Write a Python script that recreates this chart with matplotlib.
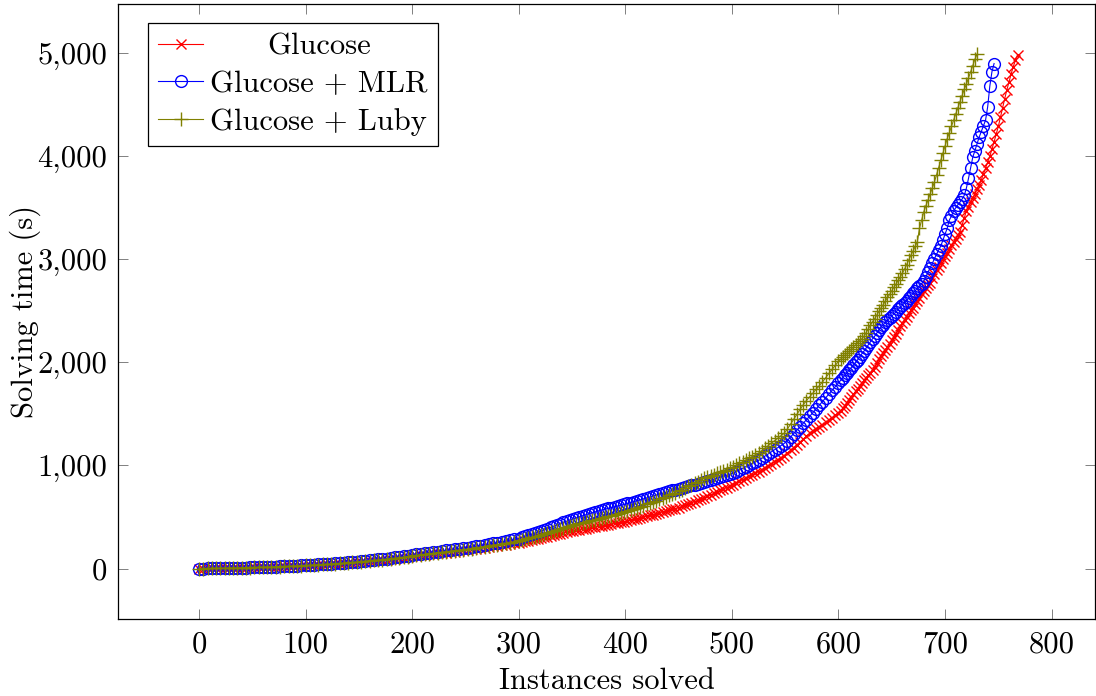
import matplotlib
matplotlib.use("Agg")
import matplotlib.pyplot as plt
from matplotlib.ticker import FuncFormatter, MultipleLocator

plt.rcParams.update({
    "font.family": "cmr10",
    "font.size": 22,
    "axes.formatter.use_mathtext": True,
    "mathtext.fontset": "cm",
})

# ── Data: cumulative solving time (s) vs. number of instances solved ─────────
# sampled every 4 instances up to 296, every 3 up to 597, every 2 after that
INST_A = list(range(0, 300, 4))
INST_B = list(range(300, 600, 3))

glucose_a = [
    0, 0, 1, 1, 2, 2, 3, 4, 4, 5, 6, 7, 8, 10, 11, 12, 14, 15, 17, 18,
    20, 22, 23, 25, 27, 29, 31, 33, 35, 38, 40, 42, 45, 47, 50, 53, 56, 59, 63, 66,
    70, 74, 78, 82, 87, 91, 96, 101, 105, 111, 117, 122, 127, 131, 136, 141, 146,
    151, 155, 160, 165, 170, 175, 181, 186, 191, 197, 202, 208, 214, 220, 226,
    232, 238, 244,
]
mlr_a = [
    0, 0, 1, 1, 2, 3, 4, 5, 6, 7, 8, 9, 10, 12, 13, 14, 16, 17, 19, 20,
    22, 24, 26, 28, 30, 32, 34, 37, 39, 42, 45, 48, 51, 54, 57, 60, 64, 67, 71, 75,
    79, 83, 88, 92, 97, 102, 107, 112, 118, 124, 130, 136, 141, 147, 152, 158,
    164, 169, 175, 180, 186, 192, 197, 203, 210, 216, 223, 230, 237, 244, 252,
    260, 267, 275, 282,
]
luby_a = [
    0, 0, 1, 1, 2, 2, 3, 4, 5, 6, 7, 8, 9, 11, 12, 13, 15, 16, 18, 19,
    21, 23, 24, 26, 28, 30, 32, 35, 37, 40, 42, 44, 47, 50, 53, 56, 60, 63, 67, 70,
    74, 78, 82, 86, 91, 95, 100, 105, 111, 116, 122, 127, 132, 136, 141, 146,
    151, 156, 161, 166, 171, 177, 182, 188, 193, 199, 205, 211, 217, 224, 230,
    237, 244, 251, 258,
]

glucose_b = [
    250, 257, 263, 270, 276, 283, 290, 296, 303, 310, 317, 324, 331, 339, 346,
    353, 360, 367, 372, 378, 383, 388, 394, 399, 405, 410, 415, 421, 426, 432,
    437, 442, 448, 453, 460, 468, 476, 484, 491, 499, 507, 515, 523, 531, 540,
    548, 556, 565, 573, 582, 590, 602, 614, 626, 638, 650, 662, 674, 686, 700,
    714, 728, 743, 757, 772, 786, 800, 815, 831, 846, 862, 878, 893, 909, 924,
    940, 959, 978, 998, 1017, 1036, 1055, 1074, 1094, 1118, 1146, 1174, 1201,
    1229, 1256, 1284, 1311, 1337, 1357, 1377, 1397, 1417, 1437, 1462, 1486,
]
mlr_b = [
    290, 301, 312, 322, 333, 344, 355, 366, 376, 388, 400, 412, 424, 436, 448,
    460, 472, 483, 493, 502, 512, 522, 531, 541, 550, 560, 568, 576, 583, 591,
    599, 607, 615, 622, 631, 640, 649, 658, 667, 676, 685, 694, 703, 712, 721,
    730, 739, 748, 757, 766, 775, 783, 791, 799, 806, 814, 822, 830, 837, 846,
    856, 866, 875, 885, 894, 904, 914, 925, 941, 956, 972, 988, 1003, 1019, 1034,
    1050, 1070, 1091, 1111, 1132, 1152, 1172, 1193, 1213, 1242, 1276, 1310, 1343,
    1377, 1410, 1444, 1478, 1512, 1548, 1584, 1620, 1656, 1692, 1728, 1764,
]
luby_b = [
    265, 274, 283, 292, 301, 310, 319, 328, 337, 346, 356, 366, 375, 385, 394,
    404, 414, 422, 430, 437, 444, 451, 458, 466, 473, 480, 488, 497, 505, 514,
    522, 530, 539, 547, 557, 568, 579, 590, 600, 611, 622, 633, 644, 658, 671,
    684, 697, 710, 724, 737, 750, 766, 781, 797, 812, 828, 844, 859, 875, 888,
    900, 912, 924, 936, 948, 960, 972, 986, 1003, 1019, 1036, 1053, 1070, 1086,
    1103, 1120, 1144, 1168, 1192, 1216, 1240, 1264, 1288, 1312, 1352, 1400, 1448,
    1496, 1544, 1590, 1630, 1666, 1702, 1738, 1774, 1810, 1852, 1893, 1932, 1971,
]

glucose_tail_x = list(range(600, 770, 2))
glucose_tail = [
    1510, 1530, 1555, 1580, 1610, 1640, 1665, 1690, 1720,
    1745, 1770, 1800, 1825, 1850, 1875, 1900, 1930, 1960, 1990,
    2030, 2060, 2095, 2125, 2150, 2180,
    2215, 2250, 2280, 2315, 2350, 2385,
    2415, 2445, 2475, 2505, 2530, 2565, 2595, 2625, 2660, 2690,
    2720, 2750, 2775, 2820, 2860, 2895, 2930, 2965, 3000, 3030,
    3065, 3100, 3135, 3165, 3200, 3235, 3270,
    3335, 3400, 3470,
    3510, 3555, 3595, 3635, 3680, 3720,
    3770, 3830, 3885, 3945, 4000,
    4070, 4140, 4215, 4290,
    4380, 4470, 4560, 4645,
    4720, 4800, 4870, 4930, 4985,
]
mlr_tail_x = list(range(600, 748, 2))
mlr_tail = [
    1800, 1825, 1850, 1875, 1900, 1925, 1950, 1975, 2000,
    2025, 2055, 2085, 2110, 2140, 2170, 2200, 2230, 2255, 2285, 2315,
    2345, 2365, 2390, 2410, 2430, 2450, 2470, 2490, 2515, 2535, 2555, 2580, 2600,
    2625, 2645, 2670, 2695, 2720, 2740, 2765, 2790,
    2830, 2875, 2920, 2960, 3005, 3050,
    3090, 3130, 3185, 3245,
    3300, 3380, 3420, 3470,
    3500, 3530, 3555, 3585,
    3620, 3690, 3785, 3890, 3990,
    4055, 4120, 4185,
    4240, 4295, 4350,
    4480, 4680, 4820, 4900,
]
luby_tail_x = list(range(600, 732, 2))
luby_tail = [
    2010, 2030, 2050, 2070, 2090, 2110, 2130, 2150, 2170, 2190, 2210, 2230,
    2255, 2290, 2325, 2360, 2395, 2425, 2460, 2495, 2530,
    2560, 2595, 2630, 2660, 2695, 2730, 2760, 2795, 2830, 2865,
    2905, 2950, 2995, 3040, 3080, 3125, 3170,
    3300, 3380, 3460,
    3520, 3575, 3635, 3690, 3750,
    3820, 3890, 3960, 4030, 4100, 4170, 4230,
    4290, 4350, 4410, 4470, 4530, 4590, 4650, 4700, 4760, 4820, 4880, 4940, 4990,
]

SERIES = [
    ("Glucose", glucose_a + glucose_b + glucose_tail, glucose_tail_x,
     dict(color="#ff0000", marker="x", ms=7, mew=1.0)),
    ("Glucose + MLR", mlr_a + mlr_b + mlr_tail, mlr_tail_x,
     dict(color="#0000ff", marker="o", ms=8.5, mew=1.0, mfc="none")),
    ("Glucose + Luby", luby_a + luby_b + luby_tail, luby_tail_x,
     dict(color="#808000", marker="+", ms=9.5, mew=1.0)),
]

# ── Figure ───────────────────────────────────────────────────────────────────
W, H = 1096, 696
fig = plt.figure(figsize=(W / 100, H / 100), dpi=100)
left, right, top, bottom = 118.3, 1095.0, 4.0, 619.0
ax = fig.add_axes([left / W, 1 - bottom / H, (right - left) / W, (bottom - top) / H])

for label, ys, tail_x, style in SERIES:
    xs = INST_A + INST_B + tail_x
    assert len(xs) == len(ys), (label, len(xs), len(ys))
    ax.plot(xs, ys, lw=0.8, label=label, **style)

ax.set_xlim(-75.7, 840.7)
ax.set_ylim(-490, 5478)
ax.xaxis.set_major_locator(MultipleLocator(100))
ax.yaxis.set_major_locator(MultipleLocator(1000))
ax.yaxis.set_major_formatter(FuncFormatter(lambda v, _: f"{int(v):,}"))
ax.xaxis.set_major_formatter(FuncFormatter(lambda v, _: f"{int(v)}"))
ax.tick_params(direction="in", length=7, width=0.7, color="#808080",
               top=True, right=True, labelsize=22)
ax.tick_params(axis="x", pad=9)
ax.tick_params(axis="y", pad=8)
for sp in ax.spines.values():
    sp.set_linewidth(0.9)

ax.set_xlabel("Instances solved", va="center")
ax.xaxis.set_label_coords(0.5, -0.1008)
ax.set_ylabel("Solving time (s)", va="center")
ax.yaxis.set_label_coords(-0.0955, 0.5)

leg = ax.legend(loc="upper left", bbox_to_anchor=(0.0307, 0.9686),
                borderaxespad=0, fancybox=False, framealpha=1,
                edgecolor="black", handlelength=1.46, handletextpad=0.23,
                borderpad=0.33, labelspacing=0.32, fontsize=22)
leg.get_frame().set_linewidth(0.9)

# centre the legend texts in their column, as pgfplots does
fig.canvas.draw()
renderer = fig.canvas.get_renderer()
texts = leg.get_texts()
widths = [t.get_window_extent(renderer).width for t in texts]
wmax = max(widths)
for t, w in zip(texts, widths):
    t.set_x((wmax - w) / 2)

fig.savefig("out.png", dpi=100)
